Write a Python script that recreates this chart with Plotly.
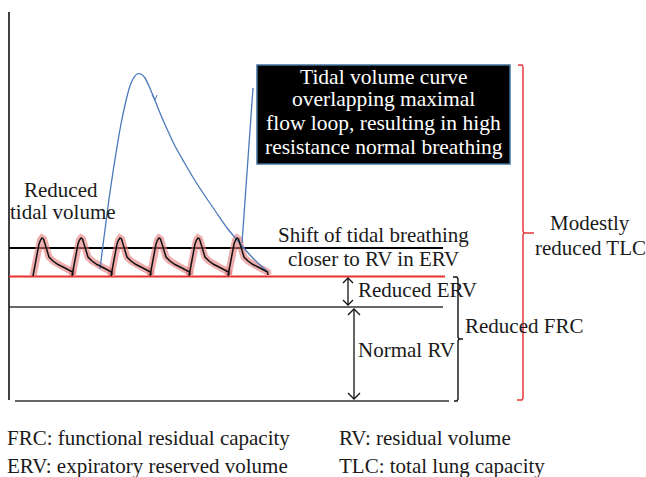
import plotly.graph_objects as go

W, H = 646, 477
SERIF = "Liberation Serif, Times New Roman, serif"

# ---- volume levels (diagram units, y grows downward) ----
axis_x = 9
axis_top_y = 12
floor_y = 401
tidal_top_y = 248
frc_y = 276.5
rv_y = 307
line_right_x = 444
floor_left_x = 15
floor_right_x = 449

# ---- tidal breaths (reduced tidal volume) ----
breath_starts = [33, 72, 111, 150, 189, 228]
breath_dx = [0, 2, 4, 6, 7.5, 9, 10.5, 12, 13.5, 16, 20, 25, 31, 37, 39.5, 40]
breath_y = [276, 265, 253, 244, 240, 238, 239, 244, 251, 257, 261, 264.5, 267.5, 270.5, 272, 275]

# ---- maximal flow loop (blue) ----
loop_x = [100, 103, 106, 109, 113, 117, 121, 125, 129, 133, 137, 141, 145, 149, 154,
          160, 167, 175, 184, 194, 205, 216, 227, 238, 250, 260, 268]
loop_y = [269, 245, 222, 199, 172, 147, 124, 105, 89, 79, 74, 74, 78, 86, 98,
          113, 129, 146, 162, 179, 196, 212, 228, 241, 255, 265, 272]
pointer_x = [253, 242]
pointer_y = [88, 243]

# ---- callout box ----
box_x = [257, 510]
box_y = [65, 164]
box_lines = ["Tidal volume curve", "overlapping maximal",
             "flow loop, resulting in high", "resistance normal breathing"]
box_line_y = [77, 99, 123, 147]

# ---- brackets ----
tlc_bracket_x = 523
tlc_bracket_y = [65, 233, 400]
frc_bracket_x = 458
frc_bracket_y = [277, 339, 401]

# ---- double arrows ----
erv_arrow_x = 348
erv_arrow_y = [278, 305]
rv_arrow_x = 354
rv_arrow_y = [309, 399]

fig = go.Figure()


def seg(xs, ys, color, width):
    fig.add_trace(go.Scatter(x=xs, y=ys, mode="lines",
                             line=dict(color=color, width=width),
                             hoverinfo="skip", showlegend=False))


# axis & level lines
seg([axis_x, axis_x], [axis_top_y, floor_y - 1], "#111111", 1.6)
seg([floor_left_x, floor_right_x], [floor_y, floor_y], "#333333", 1.6)
seg([axis_x, line_right_x - 1], [tidal_top_y, tidal_top_y], "#000000", 2.2)
seg([axis_x, line_right_x + 1], [frc_y, frc_y], "#e8302f", 2.2)
seg([axis_x, line_right_x - 1], [rv_y, rv_y], "#333333", 1.4)

# pink halo of breaths
for x0 in breath_starts:
    seg([x0 + d for d in breath_dx], breath_y, "rgba(228,120,120,0.6)", 7)

# blue loop and pointer
fig.add_trace(go.Scatter(x=loop_x, y=loop_y, mode="lines",
                         line=dict(color="#4a78b8", width=1.3, shape="spline", smoothing=0.6),
                         hoverinfo="skip", showlegend=False))
seg(pointer_x, pointer_y, "#4a78b8", 1.3)
# small arrow tick on loop
seg([152, 155, 157], [95, 100, 95], "#4a78b8", 1.0)

# black breaths
for x0 in breath_starts:
    seg([x0 + d for d in breath_dx], breath_y, "#111111", 1.5)

# red TLC bracket
bx = tlc_bracket_x
seg([bx - 5, bx - 1, bx, bx, bx + 1, bx + 11, bx + 1, bx, bx, bx - 1, bx - 6],
    [tlc_bracket_y[0], tlc_bracket_y[0], tlc_bracket_y[0] + 2, tlc_bracket_y[1] - 2,
     tlc_bracket_y[1], tlc_bracket_y[1], tlc_bracket_y[1], tlc_bracket_y[1] + 2,
     tlc_bracket_y[2] - 2, tlc_bracket_y[2], tlc_bracket_y[2]], "#e8383d", 1.5)

# black FRC bracket
fx = frc_bracket_x
seg([fx - 5, fx - 1, fx, fx, fx + 1, fx + 5, fx + 1, fx, fx, fx - 1, fx - 4],
    [frc_bracket_y[0], frc_bracket_y[0], frc_bracket_y[0] + 2, frc_bracket_y[1] - 2,
     frc_bracket_y[1], frc_bracket_y[1], frc_bracket_y[1], frc_bracket_y[1] + 2,
     frc_bracket_y[2] - 2, frc_bracket_y[2], frc_bracket_y[2]], "#111111", 1.4)


def double_arrow(x, y0, y1, hw, hh):
    seg([x, x], [y0, y1], "#111111", 1.3)
    seg([x - hw, x, x + hw], [y0 + hh, y0, y0 + hh], "#111111", 1.3)
    seg([x - hw, x, x + hw], [y1 - hh, y1, y1 - hh], "#111111", 1.3)


double_arrow(erv_arrow_x, erv_arrow_y[0], erv_arrow_y[1], 5, 5)
double_arrow(rv_arrow_x, rv_arrow_y[0], rv_arrow_y[1], 6, 6)

# callout box
fig.add_shape(type="rect", x0=box_x[0], x1=box_x[1], y0=box_y[0], y1=box_y[1],
              xref="x", yref="y", fillcolor="#000000",
              line=dict(color="#41719c", width=1.5), layer="above")

annotations = []


def txt(t, x, y, anchor="center", size=21, color="#1a1a1a"):
    annotations.append(dict(text=t, x=x, y=y, xref="x", yref="y",
                            xanchor=anchor, yanchor="middle", showarrow=False,
                            font=dict(family=SERIF, size=size, color=color)))


for t, yy in zip(box_lines, box_line_y):
    txt(t, (box_x[0] + box_x[1]) / 2, yy, size=21.5, color="#ffffff")

txt("Reduced", 61, 190)
txt("tidal volume", 63, 212)
txt("Shift of tidal breathing", 373, 235)
txt("closer to RV in ERV", 373, 259)
txt("Reduced ERV", 356, 290, anchor="left")
txt("Normal RV", 356, 350, anchor="left")
txt("Reduced FRC", 463, 326, anchor="left")
txt("Modestly", 590, 223)
txt("reduced TLC", 590, 248)
txt("FRC: functional residual capacity", 5, 438, anchor="left")
txt("ERV: expiratory reserved volume", 5, 466, anchor="left")
txt("RV: residual volume", 337, 438, anchor="left")
txt("TLC: total lung capacity", 337, 466, anchor="left")

fig.update_layout(
    width=W, height=H,
    margin=dict(l=0, r=0, t=0, b=0),
    paper_bgcolor="white", plot_bgcolor="white",
    xaxis=dict(range=[0, W], visible=False, fixedrange=True),
    yaxis=dict(range=[H, 0], visible=False, fixedrange=True),
    annotations=annotations,
    showlegend=False,
)

fig.write_html(
    "out.html",
    config={"displayModeBar": False},
    post_script="document.body.style.margin='0';document.body.style.overflow='hidden';",
)
